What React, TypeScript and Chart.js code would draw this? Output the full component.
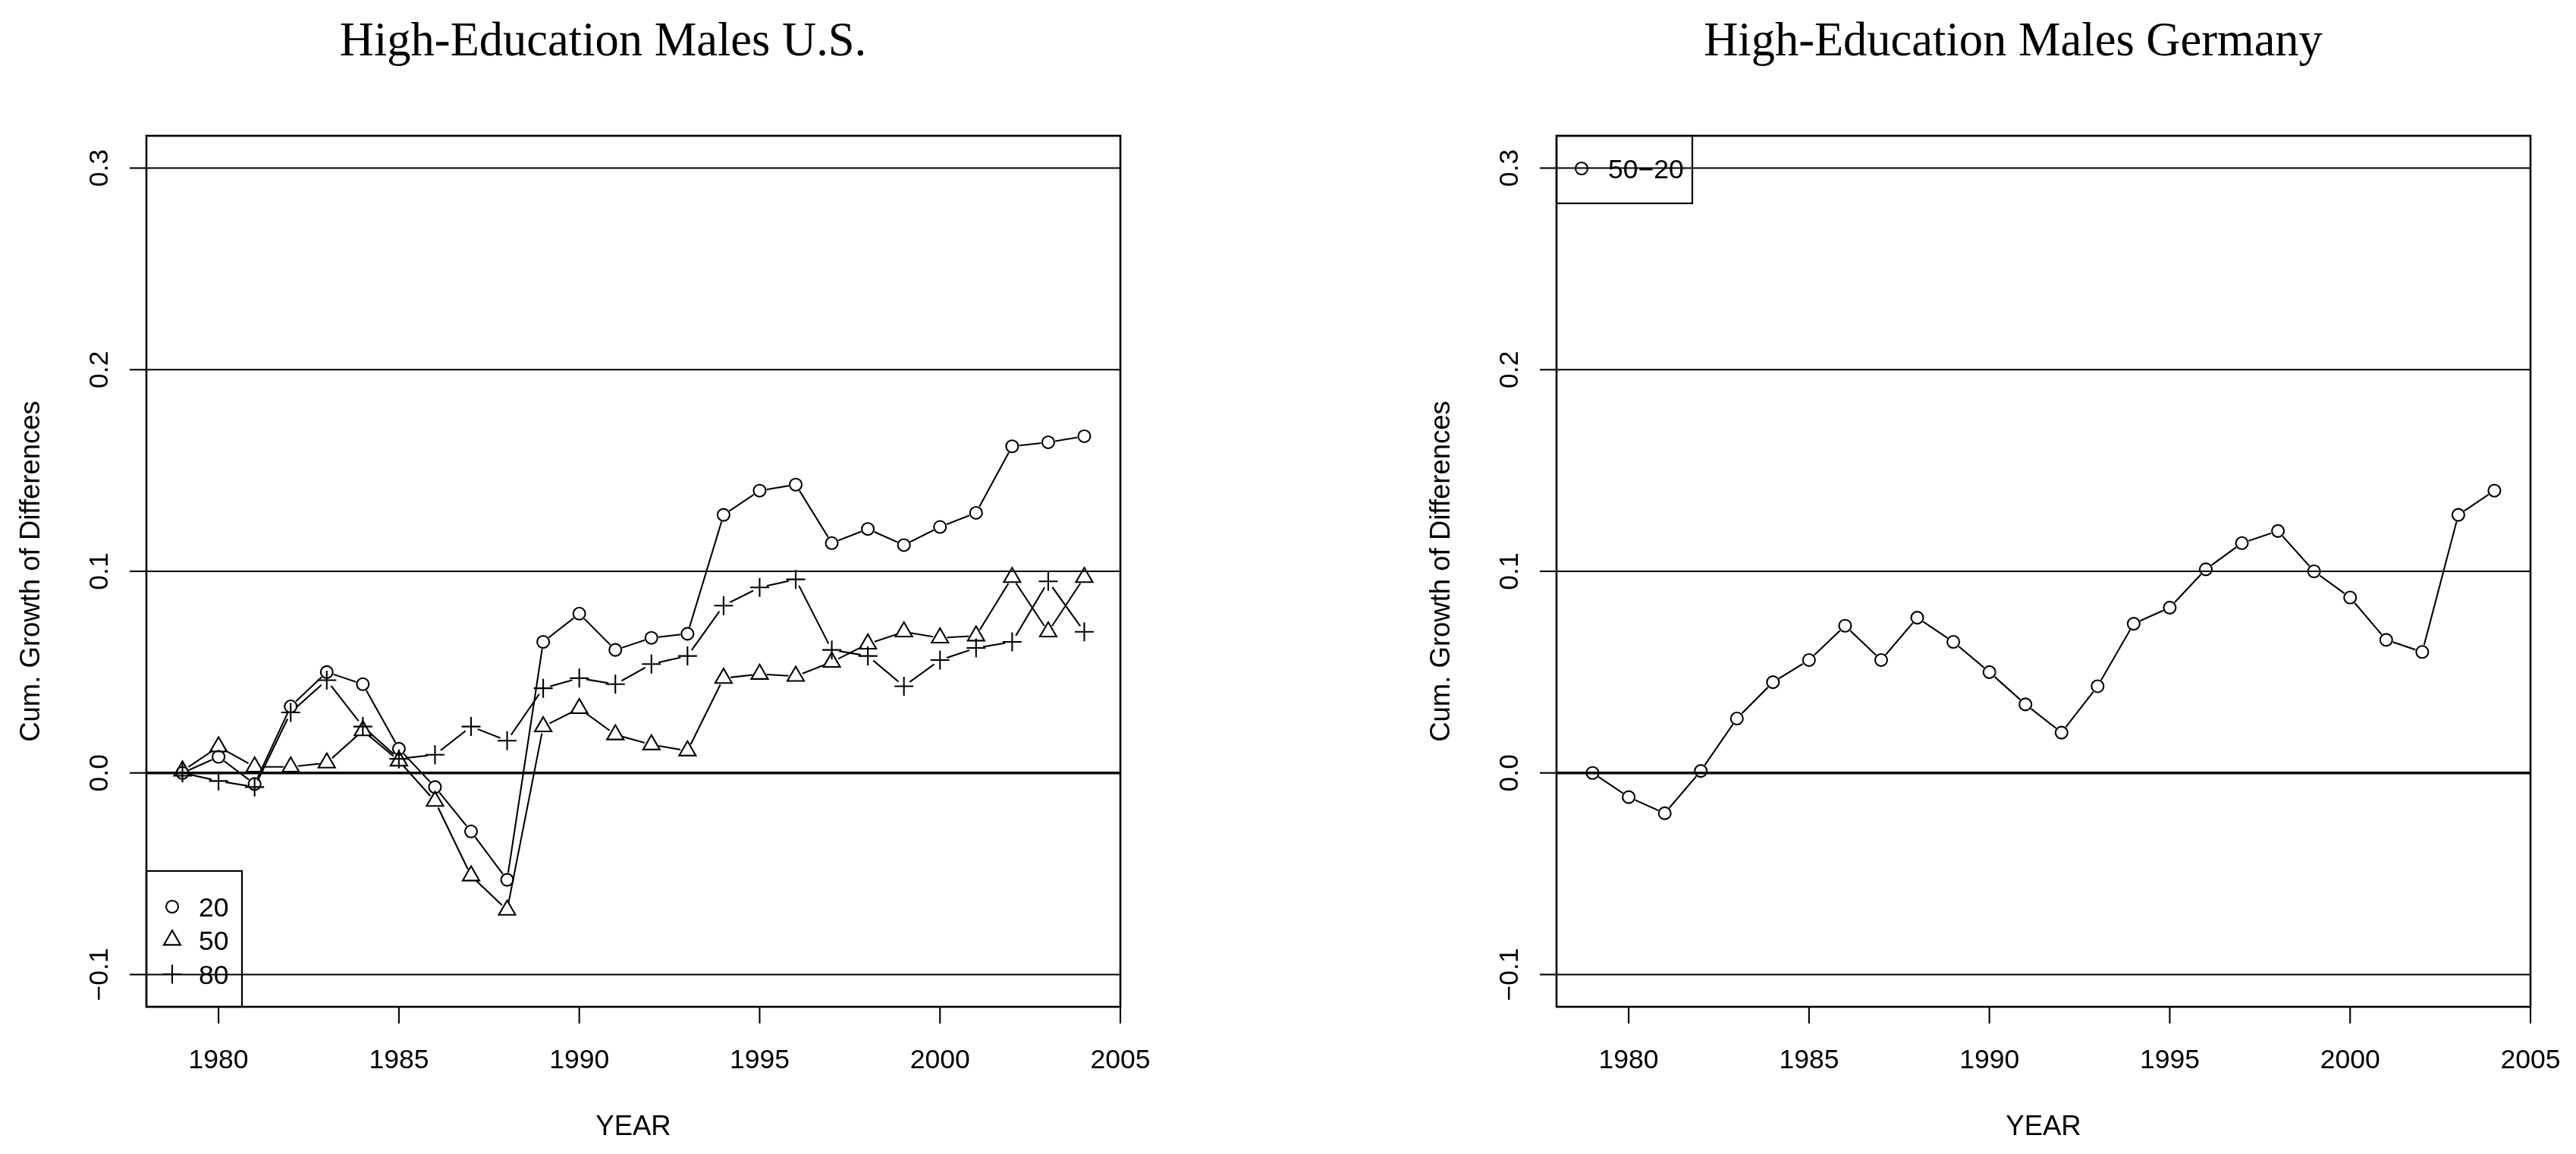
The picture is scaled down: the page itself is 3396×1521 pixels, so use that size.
import React, { useEffect, useRef } from "react";
import { Chart, registerables } from "chart.js";

Chart.register(...registerables);

// ---------------- data ----------------
const years = [1979, 1980, 1981, 1982, 1983, 1984, 1985, 1986, 1987, 1988, 1989, 1990, 1991, 1992, 1993, 1994, 1995, 1996, 1997, 1998, 1999, 2000, 2001, 2002, 2003, 2004];

const us20 = [0.0, 0.008, -0.0055, 0.033, 0.05, 0.044, 0.012, -0.007, -0.029, -0.053, 0.065, 0.079, 0.061, 0.067, 0.069, 0.128, 0.14, 0.143, 0.114, 0.121, 0.113, 0.122, 0.129, 0.162, 0.164, 0.167];
const us50 = [0.001, 0.013, 0.003, 0.003, 0.005, 0.021, 0.006, -0.014, -0.051, -0.068, 0.023, 0.032, 0.019, 0.014, 0.011, 0.047, 0.049, 0.048, 0.055, 0.064, 0.07, 0.067, 0.068, 0.097, 0.07, 0.097];
const us80 = [0.0, -0.004, -0.007, 0.03, 0.046, 0.023, 0.007, 0.009, 0.023, 0.016, 0.042, 0.047, 0.044, 0.054, 0.058, 0.083, 0.092, 0.096, 0.061, 0.058, 0.043, 0.056, 0.062, 0.065, 0.095, 0.07];
const de5020 = [0.0, -0.012, -0.02, 0.001, 0.027, 0.045, 0.056, 0.073, 0.056, 0.077, 0.065, 0.05, 0.034, 0.02, 0.043, 0.074, 0.082, 0.101, 0.114, 0.12, 0.1, 0.087, 0.066, 0.06, 0.128, 0.14];

const xTicks = [1980, 1985, 1990, 1995, 2000, 2005];
const xTickLabels = ["1980", "1985", "1990", "1995", "2000", "2005"];
const yTicks = [-0.1, 0.0, 0.1, 0.2, 0.3];
const yTickLabels = ["\u22120.1", "0.0", "0.1", "0.2", "0.3"];
const hLines = [-0.1, 0.0, 0.1, 0.2, 0.3];

const usLegendLabels = ["20", "50", "80"];
const deLegendLabels = ["50\u221220"];

const titleUS = "High-Education Males U.S.";
const titleDE = "High-Education Males Germany";
const xTitle = "YEAR";
const yTitle = "Cum. Growth of Differences";

const X_MIN = 1978;
const X_MAX = 2005;
const Y_MIN = -0.116;
const Y_MAX = 0.316;

// ---------------- styling ----------------
const SANS = '"Liberation Sans", Arial, Helvetica, sans-serif';
const SERIF = '"Liberation Serif", "Times New Roman", serif';
const TICK_FONT = `35.5px ${SANS}`;
const LAB_FONT = `36.5px ${SANS}`;
const TITLE_FONT = `62.5px ${SERIF}`;
const LW = 2.1;
const BOX_LW = 2.6;
const ZERO_LW = 3.4;
const GAP = 9.5;

type Marker = "circle" | "triangle" | "cross";
const markerRadius: Record<Marker, number> = { circle: 8, triangle: 12.7, cross: 12.5 };

function drawMarker(ctx: CanvasRenderingContext2D, m: Marker, x: number, y: number) {
  const r = markerRadius[m];
  ctx.beginPath();
  if (m === "circle") {
    ctx.arc(x, y, r, 0, Math.PI * 2);
  } else if (m === "triangle") {
    ctx.moveTo(x, y - r);
    ctx.lineTo(x + r * Math.sin((2 * Math.PI) / 3), y - r * Math.cos((2 * Math.PI) / 3));
    ctx.lineTo(x + r * Math.sin((4 * Math.PI) / 3), y - r * Math.cos((4 * Math.PI) / 3));
    ctx.closePath();
  } else {
    ctx.moveTo(x - r, y);
    ctx.lineTo(x + r, y);
    ctx.moveTo(x, y - r);
    ctx.lineTo(x, y + r);
  }
  ctx.stroke();
}

interface SeriesDef {
  values: number[];
  marker: Marker;
  label: string;
}

interface PanelProps {
  left: number;
  series: SeriesDef[];
  title: string;
  legendPos: "bottomleft" | "topleft";
  padding: { left: number; right: number; top: number; bottom: number };
}

const gapPlugin = {
  id: "typeBGap",
  beforeDatasetDraw(chart: any, args: any) {
    const ds = chart.data.datasets[args.index];
    if (!ds.gapRadius) return;
    const ctx = chart.ctx;
    ctx.save();
    ctx.beginPath();
    ctx.rect(0, 0, chart.width, chart.height);
    args.meta.data.forEach((p: any) => {
      ctx.moveTo(p.x + ds.gapRadius, p.y);
      ctx.arc(p.x, p.y, ds.gapRadius, 0, Math.PI * 2);
    });
    ctx.clip("evenodd");
  },
  afterDatasetDraw(chart: any, args: any) {
    const ds = chart.data.datasets[args.index];
    if (!ds.gapRadius) return;
    chart.ctx.restore();
  },
};

function makeDecor(props: PanelProps) {
  return {
    id: "decor",
    beforeDraw(chart: any) {
      const ctx = chart.ctx;
      ctx.save();
      ctx.fillStyle = "#ffffff";
      ctx.fillRect(0, 0, chart.width, chart.height);
      ctx.restore();
    },
    beforeDatasetsDraw(chart: any) {
      const ctx = chart.ctx;
      const { left, right } = chart.chartArea;
      const ys = chart.scales.y;
      ctx.save();
      ctx.strokeStyle = "#000";
      hLines.forEach((v) => {
        const y = ys.getPixelForValue(v);
        ctx.lineWidth = v === 0 ? ZERO_LW : LW;
        ctx.beginPath();
        ctx.moveTo(left, y);
        ctx.lineTo(right, y);
        ctx.stroke();
      });
      ctx.restore();
    },
    afterDatasetsDraw(chart: any) {
      const ctx = chart.ctx;
      const { left, right, top, bottom } = chart.chartArea;
      const xs = chart.scales.x;
      const ys = chart.scales.y;
      ctx.save();
      ctx.strokeStyle = "#000";
      ctx.fillStyle = "#000";
      // box
      ctx.lineWidth = BOX_LW;
      ctx.strokeRect(left, top, right - left, bottom - top);
      // y ticks
      ctx.lineWidth = LW;
      yTicks.forEach((v, i) => {
        const y = ys.getPixelForValue(v);
        ctx.beginPath();
        ctx.moveTo(left - 22, y);
        ctx.lineTo(left, y);
        ctx.stroke();
        ctx.save();
        ctx.translate(left - 51, y);
        ctx.rotate(-Math.PI / 2);
        ctx.font = TICK_FONT;
        ctx.textAlign = "center";
        ctx.textBaseline = "alphabetic";
        ctx.fillText(yTickLabels[i], 0, 0);
        ctx.restore();
      });
      // x ticks
      xTicks.forEach((v, i) => {
        const x = xs.getPixelForValue(v);
        ctx.beginPath();
        ctx.moveTo(x, bottom);
        ctx.lineTo(x, bottom + 22);
        ctx.stroke();
        ctx.font = TICK_FONT;
        ctx.textAlign = "center";
        ctx.textBaseline = "alphabetic";
        ctx.fillText(xTickLabels[i], x, bottom + 81);
      });
      // axis titles
      ctx.font = LAB_FONT;
      ctx.textAlign = "center";
      ctx.textBaseline = "alphabetic";
      ctx.fillText(xTitle, (left + right) / 2, bottom + 169);
      ctx.save();
      ctx.translate(left - 141, (top + bottom) / 2);
      ctx.rotate(-Math.PI / 2);
      ctx.fillText(yTitle, 0, 0);
      ctx.restore();
      // main title
      ctx.font = TITLE_FONT;
      ctx.fillText(props.title, (left + right) / 2 - 40, 73);
      // legend
      ctx.lineWidth = LW;
      ctx.font = TICK_FONT;
      ctx.textAlign = "left";
      if (props.legendPos === "bottomleft") {
        ctx.lineWidth = BOX_LW * 0.85;
        ctx.strokeRect(left, bottom - 179, 126, 179);
        ctx.lineWidth = LW;
        const offs = [-132, -88, -43];
        props.series.forEach((s, i) => {
          const y = bottom + offs[i];
          drawMarker(ctx, s.marker, left + 34, y);
          ctx.fillText(s.label, left + 69, y + 12.5);
        });
      } else {
        ctx.lineWidth = BOX_LW * 0.85;
        ctx.strokeRect(left, top, 179, 89);
        ctx.lineWidth = LW;
        props.series.forEach((s, i) => {
          const y = top + 43 + i * 44;
          drawMarker(ctx, s.marker, left + 33, y);
          ctx.fillText(s.label, left + 68, y + 12.5);
        });
      }
      ctx.restore();
    },
  };
}

function Panel(props: PanelProps) {
  const ref = useRef<HTMLCanvasElement | null>(null);
  useEffect(() => {
    if (!ref.current) return;
    const datasets: any[] = [];
    props.series.forEach((s) => {
      const pts = years.map((yr, i) => ({ x: yr, y: s.values[i] }));
      datasets.push({
        label: s.label + " line",
        data: pts,
        borderColor: "#000",
        borderWidth: LW,
        pointRadius: 0,
        pointHoverRadius: 0,
        tension: 0,
        fill: false,
        gapRadius: GAP,
      });
      datasets.push({
        label: s.label,
        data: pts,
        showLine: false,
        pointStyle: s.marker,
        pointRadius: markerRadius[s.marker],
        pointHoverRadius: markerRadius[s.marker],
        pointBorderWidth: LW,
        pointBorderColor: "#000",
        pointBackgroundColor: "rgba(0,0,0,0)",
      });
    });
    const chart = new Chart(ref.current, {
      type: "line",
      data: { datasets },
      options: {
        responsive: false,
        animation: false,
        events: [],
        layout: { padding: props.padding },
        plugins: {
          legend: { display: false },
          tooltip: { enabled: false },
          title: { display: false },
        },
        scales: {
          x: { type: "linear", min: X_MIN, max: X_MAX, display: false },
          y: { type: "linear", min: Y_MIN, max: Y_MAX, display: false },
        },
      },
      plugins: [gapPlugin, makeDecor(props)],
    } as any);
    return () => chart.destroy();
  }, []);
  return (
    <canvas
      ref={ref}
      width={1698}
      height={1521}
      style={{ position: "absolute", left: props.left, top: 0, width: 1698, height: 1521 }}
    />
  );
}

export default function App() {
  const usSeries: SeriesDef[] = [
    { values: us20, marker: "circle", label: usLegendLabels[0] },
    { values: us50, marker: "triangle", label: usLegendLabels[1] },
    { values: us80, marker: "cross", label: usLegendLabels[2] },
  ];
  const deSeries: SeriesDef[] = [{ values: de5020, marker: "circle", label: deLegendLabels[0] }];
  return (
    <div
      style={{
        position: "fixed",
        left: 0,
        top: 0,
        width: 3396,
        height: 1521,
        background: "#fff",
        overflow: "hidden",
      }}
    >
      <Panel
        left={0}
        series={usSeries}
        title={titleUS}
        legendPos="bottomleft"
        padding={{ left: 193, right: 221, top: 179, bottom: 194 }}
      />
      <Panel
        left={1698}
        series={deSeries}
        title={titleDE}
        legendPos="topleft"
        padding={{ left: 354, right: 60, top: 179, bottom: 194 }}
      />
    </div>
  );
}
